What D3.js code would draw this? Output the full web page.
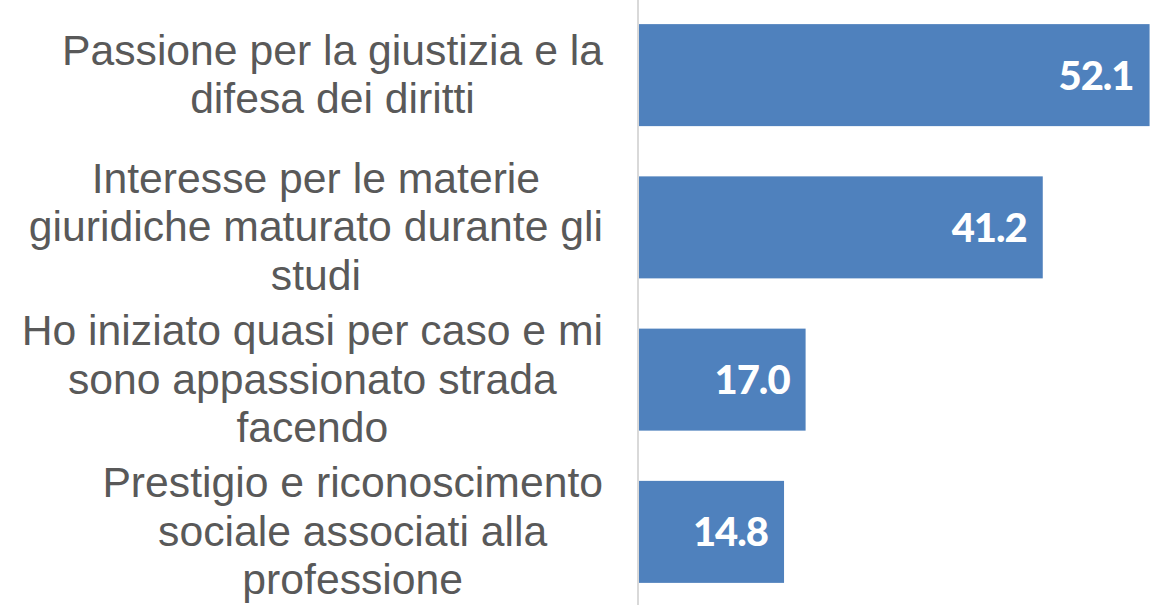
<!DOCTYPE html>
<html>
<head>
<meta charset="utf-8">
<script src="https://cdn.jsdelivr.net/npm/d3@7"></script>
<style>
  html, body { margin: 0; padding: 0; background: #ffffff; }
  svg { display: block; }
</style>
</head>
<body>
<svg id="chart" width="1172" height="605"></svg>
<script>
const categories = [
  ["Passione per la giustizia e la", "difesa dei diritti"],
  ["Interesse per le materie", "giuridiche maturato durante gli", "studi"],
  ["Ho iniziato quasi per caso e mi", "sono appassionato strada", "facendo"],
  ["Prestigio e riconoscimento", "sociale associati alla", "professione"]
];
const values = [52.1, 41.2, 17.0, 14.8];
const xDomain = [0, 60];

const W = 1172, H = 605;
const axisX = 639;
const svg = d3.select("#chart");

const keys = categories.map((c, i) => i);
const y = d3.scaleBand().domain(keys).range([-1, 608]).paddingInner(0.33).paddingOuter(0.165);
const x = d3.scaleLinear().domain(xDomain).range([axisX, axisX + 588]);

// axis line
svg.append("line")
  .attr("x1", axisX - 1).attr("x2", axisX - 1)
  .attr("y1", 0).attr("y2", H)
  .attr("stroke", "#D9D9D9").attr("stroke-width", 2);

// bars
svg.selectAll("rect.bar").data(values).join("rect")
  .attr("class", "bar")
  .attr("x", x(0))
  .attr("y", (d, i) => y(i))
  .attr("width", d => x(d) - x(0))
  .attr("height", y.bandwidth())
  .attr("fill", "#4F81BD");

// value labels
svg.selectAll("text.val").data(values).join("text")
  .attr("class", "val")
  .attr("x", d => x(d) - 16)
  .attr("y", (d, i) => y(i) + y.bandwidth() / 2)
  .attr("dy", "0.36em")
  .attr("text-anchor", "end")
  .attr("fill", "#ffffff")
  .style("font-family", "Lato, 'Open Sans', sans-serif")
  .style("font-weight", "900")
  .style("font-size", "40px")
  .style("letter-spacing", "-1px")
  .text(d => d.toFixed(1));

// category labels: each block right-aligned at 603, lines centered within block
const labelRight = 603;
const lineH = 48.5;
const fontSize = 42.7;
categories.forEach((lines, i) => {
  const g = svg.append("g");
  const texts = lines.map((ln, j) => g.append("text")
    .style("font-family", "'Liberation Sans', Arial, sans-serif")
    .style("font-size", fontSize + "px")
    .attr("fill", "#595959")
    .attr("text-anchor", "middle")
    .text(ln));
  const widths = texts.map(t => t.node().getComputedTextLength());
  const maxW = d3.max(widths);
  const cx = labelRight - maxW / 2;
  const cy = y(i) + y.bandwidth() / 2 - 1;
  const n = lines.length;
  texts.forEach((t, j) => {
    t.attr("x", cx)
     .attr("y", cy + (j - (n - 1) / 2) * lineH)
     .attr("dy", "0.35em");
  });
});
</script>
</body>
</html>
